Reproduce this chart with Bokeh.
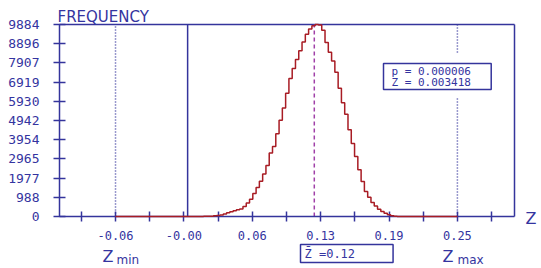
from bokeh.plotting import figure
from bokeh.models import Range1d, FixedTicker, Label, CustomJSTickFormatter
from bokeh.embed import file_html
from bokeh.resources import INLINE

# ---------------- data ----------------
bin_start = 0.0
bin_width = 0.003
counts = [0, 0, 0, 2, 4, 6, 8, 10, 17, 34,
          51, 80, 134, 190, 242, 299, 345, 386, 520, 690,
          885, 1184, 1488, 1817, 2193, 2620, 3269, 3609, 4263, 4957,
          5591, 6342, 7104, 7614, 8082, 8530, 8983, 9385, 9653, 9823,
          9884, 9853, 9586, 8963, 8453, 8005, 7429, 6605, 5853, 5261,
          4463, 3758, 3084, 2404, 1802, 1287, 988, 716, 546, 376,
          257, 170, 85, 41, 10, 5, 2]
z_min = -0.0625
z_max = 0.25
z_bar = 0.1192
z_obs = 0.003418
p_value = 0.000006
y_max = 9884

x_major_ticks = [-0.0625, 0.0, 0.0625, 0.125, 0.1875, 0.25]
x_major_labels = ["-0.06", "-0.00", "0.06", "0.13", "0.19", "0.25"]
x_minor_ticks = [-0.09375, -0.03125, 0.03125, 0.09375, 0.15625, 0.21875, 0.28125]
y_ticks = [0, 988.4, 1976.8, 2965.2, 3953.6, 4942, 5930.4, 6918.8, 7907.2, 8895.6, 9884]
y_tick_labels = ["0", "988", "1977", "2965", "3954", "4942", "5930", "6919", "7907", "8896", "9884"]

# ---------------- layout ----------------
W, H = 541, 268
FL, FT, FW, FH = 59, 24, 455, 192      # plot box in pixels
x_lo, x_hi = -0.1137, 0.3022           # data extent of the plot box
BLUE = "#34349c"
RED = "#a81c24"
MAG = "#a040a8"
TXT = "#3434a0"


def dx(px):
    return x_lo + (px - FL) / FW * (x_hi - x_lo)


def dy(py):
    return y_max * (FT + FH - py) / FH


# the frame covers the whole canvas; axes are pinned at the plot box edges
p = figure(width=W, height=H, output_backend="svg", toolbar_location=None,
           x_range=Range1d(dx(0), dx(W)), y_range=Range1d(dy(H), dy(0)),
           min_border=0, min_border_left=0, min_border_right=0,
           min_border_top=0, min_border_bottom=0)
p.background_fill_color = "white"
p.border_fill_color = "white"
p.outline_line_color = None
p.xgrid.visible = False
p.ygrid.visible = False

fmt_js = """
for (let i = 0; i < vals.length; i++) {
  if (Math.abs(vals[i] - tick) < 1e-9) { return labs[i]; }
}
return "";
"""

xa = p.xaxis[0]
xa.fixed_location = 0
xa.bounds = (x_lo, x_hi)
xa.ticker = FixedTicker(ticks=x_major_ticks, minor_ticks=x_minor_ticks)
xa.formatter = CustomJSTickFormatter(args=dict(vals=x_major_ticks, labs=x_major_labels), code=fmt_js)
ya = p.yaxis[0]
ya.fixed_location = x_lo
ya.bounds = (0, y_max)
ya.ticker = FixedTicker(ticks=y_ticks)
ya.formatter = CustomJSTickFormatter(args=dict(vals=y_ticks, labs=y_tick_labels), code=fmt_js)

for ax in (xa, ya):
    ax.axis_line_color = BLUE
    ax.axis_line_width = 1.5
    ax.major_tick_line_color = BLUE
    ax.minor_tick_line_color = BLUE
    ax.major_tick_line_width = 1.5
    ax.minor_tick_line_width = 1.5
    ax.major_tick_in = 5
    ax.major_tick_out = 5
    ax.minor_tick_in = 5
    ax.minor_tick_out = 5
    ax.major_label_text_color = TXT
    ax.major_label_text_font = "DejaVu Sans Mono"
    ax.major_label_text_font_size = "12px"
xa.major_label_standoff = 9
ya.major_tick_in = 6
ya.major_tick_out = 6
ya.minor_tick_line_color = None
ya.major_label_standoff = 14
ya.major_label_text_font_size = "13px"

# top and right edges of the plot box
p.segment(x0=[x_lo, x_hi], y0=[y_max, 0], x1=[x_hi, x_hi], y1=[y_max, y_max],
          line_color=BLUE, line_width=1.5)

# reference lines
p.segment(x0=[z_min], y0=[0], x1=[z_min], y1=[y_max],
          line_color=BLUE, line_width=1.5, line_dash="1 2")
p.segment(x0=[z_obs], y0=[0], x1=[z_obs], y1=[y_max],
          line_color=BLUE, line_width=1.5)
p.segment(x0=[z_bar], y0=[0], x1=[z_bar], y1=[y_max],
          line_color=MAG, line_width=1.5, line_dash="4 3")
p.segment(x0=[z_max, z_max], x1=[z_max, z_max],
          y0=[y_max, dy(98)], y1=[dy(52), 0],
          line_color=BLUE, line_width=1.5, line_dash="1 2")

# histogram as a step line from Zmin to Zmax
edges = [bin_start + i * bin_width for i in range(len(counts) + 1)]
xs = [z_min] + edges + [z_max]
ys = [0] + counts + [0, 0]
p.step(xs, ys, mode="after", line_color=RED, line_width=1.5, level="overlay")


# texts
def lab(text, px, py, size, font="DejaVu Sans", **kw):
    l = Label(x=dx(px), y=dy(py), text=text, text_color=TXT,
              text_font=font, text_font_size=size, **kw)
    p.add_layout(l)
    return l


lab("FREQUENCY", 57, 16, "15px", text_baseline="alphabetic")
lab("Z", 525, 218, "16px", text_baseline="alphabetic")
lab("Z", 102, 265, "16px", text_baseline="bottom")
lab("min", 116, 266, "12px", text_baseline="bottom")
lab("Z", 442, 265, "16px", text_baseline="bottom")
lab("max", 457, 266, "12px", text_baseline="bottom")

lab("Z\u0304 =%.2f" % z_bar, 300, 244, "12px", font="DejaVu Sans Mono",
    text_baseline="top", border_line_color=BLUE, border_line_width=1.5,
    background_fill_color="white",
    padding=dict(top=2, right=38, bottom=2, left=4))

lab("p =   %.6f\nZ =   %.6f" % (p_value, z_obs), 383, 63, "11px",
    font="DejaVu Sans Mono", text_baseline="top", text_line_height=0.85,
    border_line_color=BLUE, border_line_width=1.5,
    background_fill_color="white",
    padding=dict(top=1, right=7, bottom=1, left=8))

open("out.html", "w").write(file_html(p, INLINE))
